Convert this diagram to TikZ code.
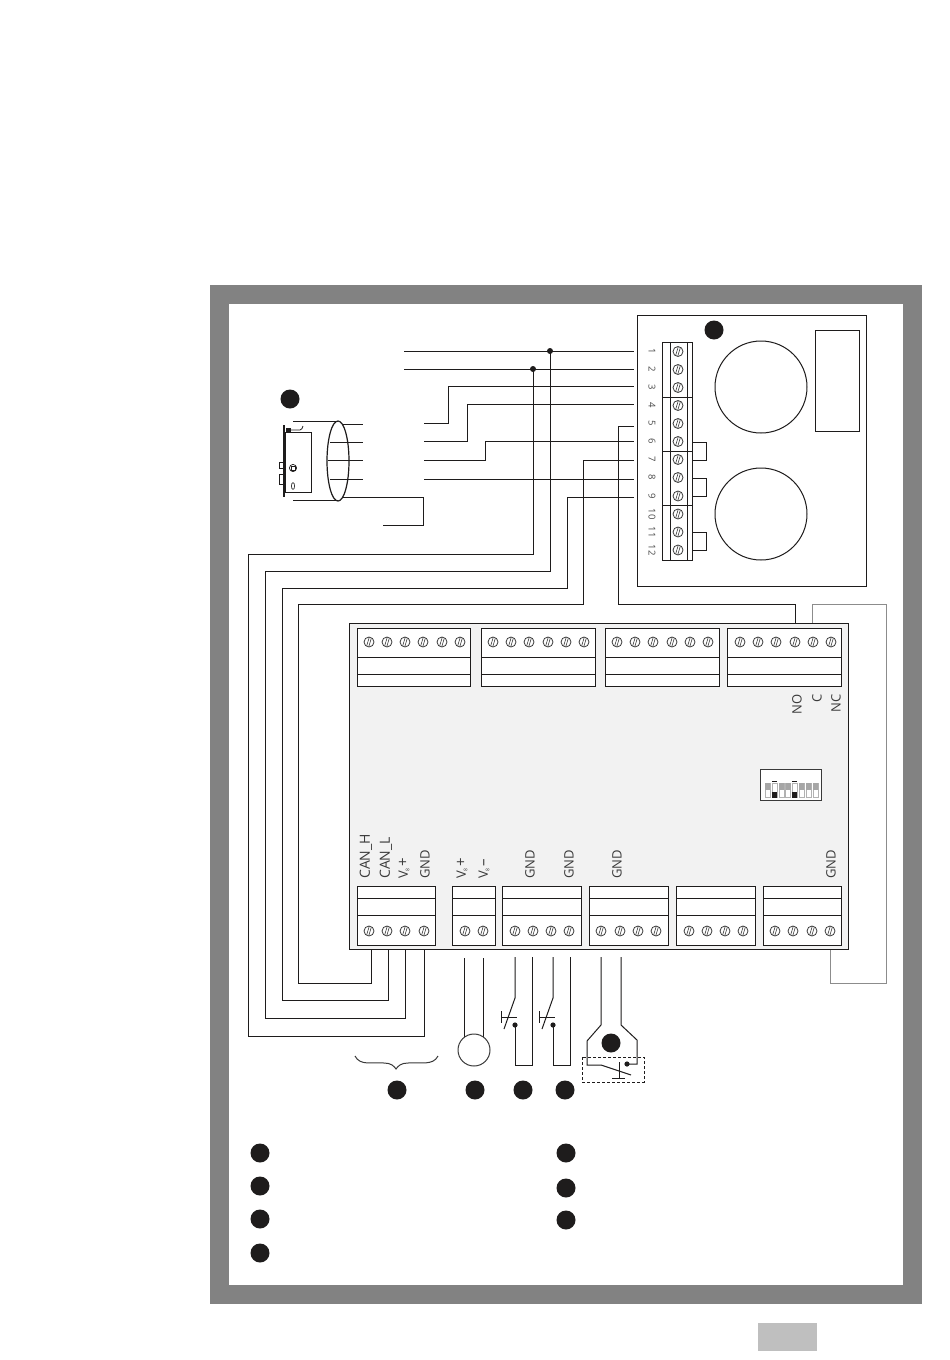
\documentclass[tikz,border=0pt]{standalone}
\usepackage{fontspec}
\setmainfont{Open Sans}
\usetikzlibrary{calc}
\definecolor{frameg}{HTML}{828282}
\definecolor{boardg}{HTML}{F2F2F2}
\definecolor{wireg}{HTML}{8C8C8C}
\definecolor{inkc}{HTML}{1E1C1C}
\definecolor{labelc}{HTML}{3A3A3A}
\definecolor{pinc}{HTML}{4A4A4A}
\tikzset{
  x=1pt,y=-1pt,
  wire/.style={draw=inkc,line width=1pt,line join=miter},
  greywire/.style={draw=wireg,line width=1pt},
  thin box/.style={draw=inkc,line width=1pt},
  blockbox/.style={draw=inkc,line width=1pt,fill=white},
  badge/.style={circle,fill=inkc,minimum size=19pt,inner sep=0pt,draw=none},
  junction/.style={circle,fill=inkc,minimum size=6pt,inner sep=0pt,draw=none},
  pinlabel/.style={font=\fontsize{9.5}{9.5}\selectfont,text=pinc,rotate=-90,inner sep=0pt},
  boardlabel/.style={font=\fontsize{13}{13}\selectfont,text=labelc,rotate=90,anchor=west,inner sep=0pt},
}
\newcommand{\screw}[2]{%
  \draw[draw=labelc,line width=.8pt,fill=white] (#1,#2) circle[radius=5];
  \draw[draw=labelc,line width=.6pt] ($(#1,#2)+(-2.3,3.7)$) -- ($(#1,#2)+(.2,-4.5)$);
  \draw[draw=labelc,line width=.6pt] ($(#1,#2)+(-.2,4.5)$) -- ($(#1,#2)+(2.3,-3.7)$);
}
\newcommand{\vsub}[1]{V\raisebox{-1.5pt}{\fontsize{5}{5}\selectfont 8}\,{\fontsize{15}{15}\selectfont #1}}
\begin{document}
\begin{tikzpicture}
\useasboundingbox (0,0) rectangle (950,1360);
\fill[white] (0,0) rectangle (950,1360);
% frame
\fill[frameg] (210,285) rectangle (922,1304);
\fill[white] (229,304) rectangle (903,1285);
\fill[black!25] (758,1323) rectangle (817,1351);

% named wire ends
\foreach \n/\y in {1/351,2/369,3/386,4/404,5/426,6/441,7/460,8/479,9/497}{
  \coordinate (t\n) at (634,\y);
}
\coordinate (bCH) at (371,947);
\coordinate (bCL) at (388,947);
\coordinate (bVP) at (405,947);
\coordinate (bGN) at (424,947);
\coordinate (jA) at (550,351);
\coordinate (jB) at (533,369);
\coordinate (brdNO) at (795,623);
\coordinate (brdC) at (812,623);
\coordinate (brdG) at (830,949);

% upper module
\draw[thin box] (637.5,315) rectangle (866.5,586);
\draw[thin box] (662,342) rectangle (692,560);
\draw[wire] (670,342) -- (670,560);
\draw[wire] (687,342) -- (687,560);
\foreach \y in {397,451,505}{\draw[wire] (662,\y) -- (692,\y);}
\foreach \y in {351.5,369.5,387.5,405.5,423.5,441.5,459.5,477.5,496,514,532,550}{\screw{678}{\y}}
\foreach \n/\y in {1/351.5,2/369.5,3/387.5,4/405.5,5/423.5,6/441.5,7/459.5,8/477.5,9/496,10/514,11/532,12/550}{
  \node[pinlabel] (pin\n) at (652,\y) {\n};
}
\draw[thin box] (761,387) circle[radius=46];
\draw[thin box] (761,514) circle[radius=46];
\draw[thin box] (815,330) rectangle (859,431);
\foreach \a/\b in {442/460,478/496,532/550}{
  \draw[wire] (692,\a) -- (706,\a) -- (706,\b) -- (692,\b);
}
\node[badge] (bTop) at (714,330) {};

% sensor device
\node[badge] (bDev) at (290,399) {};
\draw[draw=inkc,line width=1.6pt] (284,425) -- (284,497);
\draw[draw=inkc,line width=.8pt] (285,432) rectangle (311,492);
\fill[inkc] (286,428) rectangle (291,432);
\draw[draw=inkc,line width=.8pt] (291,430) -- (300,430) .. controls (302,430) and (302,428) .. (303,426);
\draw[draw=inkc,line width=.7pt] (279,462) rectangle (283,468);
\draw[draw=inkc,line width=.7pt] (279,474) rectangle (283,484);
\draw[draw=inkc,line width=.7pt] (293,468) circle[radius=3.6];
\draw[draw=inkc,line width=.6pt] (291,466) rectangle (295,470);
\draw[draw=labelc,line width=.7pt] (293,486) ellipse[x radius=1.6,y radius=3.4];
\draw[wire] (293,421) -- (338,421);
\draw[wire] (293,500) -- (338,500);
\draw[draw=inkc,line width=1.2pt] (338,461) ellipse[x radius=11,y radius=40];
\draw[wire] (343,424) -- (363,424);
\draw[wire] (330,442) -- (363,442);
\draw[wire] (328,460) -- (363,460);
\draw[wire] (330,479) -- (363,479);
\draw[wire] (343,497) -- (423,497) -- (423,525) -- (383,525);

% wires from the top terminals
\draw[wire] (404,351) -- (t1);
\draw[wire] (404,369) -- (t2);
\draw[wire] (424,423) -- (448,423) -- (448,386) -- (t3);
\draw[wire] (424,441) -- (467,441) -- (467,404) -- (t4);
\draw[wire] (424,460) -- (485,460) -- (485,441) -- (t6);
\draw[wire] (424,479) -- (t8);
\draw[wire] (t5) -- (618,426) -- (618,604) -- (795,604) -- (brdNO);
\draw[wire] (t7) -- (583,460) -- (583,604) -- (298,604) -- (298,983) -- (371,983) -- (bCH);
\draw[wire] (t9) -- (567,497) -- (567,588) -- (282,588) -- (282,1000) -- (388,1000) -- (bCL);
\draw[wire] (jA) -- (550,571) -- (265,571) -- (265,1018) -- (405,1018) -- (bVP);
\draw[wire] (jB) -- (533,554) -- (248,554) -- (248,1036.5) -- (424,1036.5) -- (bGN);
\node[junction] at (jA) {};
\node[junction] at (jB) {};

% grey wire
\draw[greywire] (brdC) -- (812,604.5) -- (886,604.5) -- (886,983) -- (830,983) -- (brdG);

% board
\draw[draw=inkc,line width=1pt,fill=boardg] (349,623) rectangle (848,949);
\foreach \xa/\xb in {357/470,481/595,605/719,727/841}{
  \draw[blockbox] (\xa,628) rectangle (\xb,686);
  \draw[wire] (\xa,657) -- (\xb,657);
  \draw[wire] (\xa,674) -- (\xb,674);
}
\foreach \x in {369,387,405,423,442,460,493,511,529,548,566,584,617,635,653,672,690,708,740,758,776,795,813,831}{\screw{\x}{642}}
\foreach \xa/\xb in {357/435.5,452/495.5,502/581.5,589/668.5,676/755.5,763/841.5}{
  \draw[blockbox] (\xa,886) rectangle (\xb,945);
  \draw[wire] (\xa,898) -- (\xb,898);
  \draw[wire] (\xa,915) -- (\xb,915);
}
\foreach \x in {369,387,405,424,465,483,515,533,551,569,601,620,638,656,689,707,725,743,775,793,812,830}{\screw{\x}{931}}
% labels on the board
\node[boardlabel,font=\fontsize{14}{14}\selectfont] at (366,879) {CAN\_H};
\node[boardlabel,font=\fontsize{14}{14}\selectfont] at (386,879) {CAN\_L};
\node[boardlabel] at (404,879) {\vsub{+}};
\node[boardlabel] at (425,879) {GND};
\node[boardlabel] at (462,879) {\vsub{+}};
\node[boardlabel] at (484,879) {\vsub{–}};
\node[boardlabel] at (530,879) {GND};
\node[boardlabel] at (569,879) {GND};
\node[boardlabel] at (617,879) {GND};
\node[boardlabel] at (831,879) {GND};
\node[boardlabel,anchor=east] at (797,694) {NO};
\node[boardlabel,anchor=east] at (817,694) {C};
\node[boardlabel,anchor=east] at (836,694) {NC};
% DIP switch
\draw[draw=labelc,line width=.7pt,fill=white] (760,769) rectangle (821,800);
\foreach \x in {765,772,779,785.5,792,799,806,813}{
  \draw[draw=black!30,line width=.4pt,fill=white] (\x,783) rectangle +(5,14.5);
}
\foreach \x in {765,779,785.5,799,806,813}{\fill[black!35] (\x,783) rectangle +(5,7);}
\foreach \x in {772,792}{
  \draw[draw=inkc,line width=.7pt] (\x,781.5) -- +(5,0);
  \fill[inkc] (\x,792) rectangle +(5,5.5);
}

% motor
\coordinate (m1) at (464,958);
\coordinate (m2) at (483,958);
\draw[wire] (m1) -- (464,1040);
\draw[wire] (m2) -- (483,1040);
\node[draw=labelc,line width=1pt,circle,minimum size=32pt,inner sep=0pt,fill=white] (motor) at (474,1050) {};

% two switches
\foreach \d in {0,38}{
  \draw[wire] (515+\d,957) -- (515+\d,998) -- (504+\d,1029);
  \draw[wire] (501+\d,1011) -- (501+\d,1023);
  \draw[wire] (501+\d,1017) -- (517+\d,1017);
  \draw[wire] (515+\d,1025) -- (515+\d,1065) -- (532+\d,1065) -- (532+\d,957);
  \fill[inkc] (515+\d,1025) circle[radius=2.6];
}

% thermal contact
\draw[wire] (601,957) -- (601,1025) -- (587,1041) -- (587,1065) -- (601,1065) -- (631,1075);
\draw[wire] (621,957) -- (621,1025) -- (637,1040) -- (637,1064) -- (627,1064);
\fill[inkc] (627,1064) circle[radius=2.6];
\draw[wire] (619,1062) -- (619,1078);
\draw[wire] (612,1078) -- (625,1078);
\draw[draw=inkc,line width=.9pt,dashed,dash pattern=on 3pt off 2pt] (582,1057) rectangle (644,1082);
\node[badge] (bTh) at (611,1043) {};

% brace
\draw[draw=labelc,line width=1pt] (355,1056) .. controls (360,1066) and (372,1062) .. (384,1063) .. controls (391,1063) and (394,1066) .. (396,1069) .. controls (398,1066) and (401,1063) .. (408,1063) .. controls (420,1062) and (433,1066) .. (438,1056);

% badges
\node[badge] (b1) at (397,1090) {};
\node[badge] (b2) at (475,1090) {};
\node[badge] (b3) at (523,1090) {};
\node[badge] (b4) at (565,1090) {};
\node[badge] (l1) at (260,1153) {};
\node[badge] (l2) at (260,1186) {};
\node[badge] (l3) at (260,1219) {};
\node[badge] (l4) at (260,1253) {};
\node[badge] (r1) at (566,1153) {};
\node[badge] (r2) at (566,1188) {};
\node[badge] (r3) at (566,1220) {};
\end{tikzpicture}
\end{document}
